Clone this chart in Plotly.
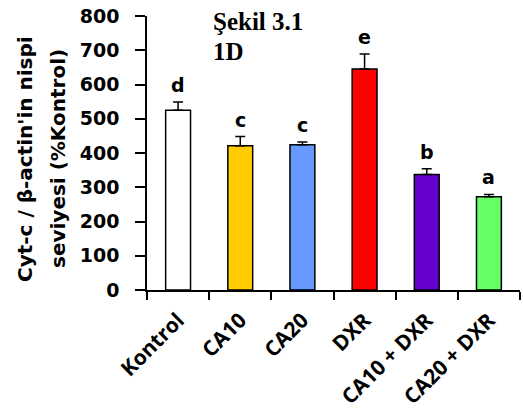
import plotly.graph_objects as go

categories = ["Kontrol", "CA10", "CA20", "DXR", "CA10 + DXR", "CA20 + DXR"]
values = [525, 421, 424, 645, 337, 272]
err_top = [549, 448, 432, 689, 354, 279]
letters = ["d", "c", "c", "e", "b", "a"]
colors = ["#FFFFFF", "#FFCC00", "#6699FF", "#FF0000", "#6600CC", "#66FF66"]
y_ticks = [0, 100, 200, 300, 400, 500, 600, 700, 800]

errs = [t - v for t, v in zip(err_top, values)]

FONT = "DejaVu Sans"
XFONT = "Open Sans"

fig = go.Figure()
fig.add_trace(go.Bar(
    x=categories, y=values, width=0.4,
    marker=dict(color=colors, line=dict(color="black", width=1.5)),
    error_y=dict(type="data", array=errs, arrayminus=[0] * len(errs), symmetric=False,
                 color="black", thickness=1.5, width=5),
))

for c, t, l in zip(categories, err_top, letters):
    fig.add_annotation(x=c, y=t, text=l, showarrow=False, yanchor="bottom",
                       yshift=4, font=dict(family=FONT, size=19, color="black", weight="bold"))

fig.add_annotation(xref="paper", yref="paper", x=(211 - 147) / 373, y=(290 - 22) / 274,
                   text="Şekil 3.1", showarrow=False, xanchor="left", yanchor="middle",
                   font=dict(family="Liberation Serif", size=25, color="black", weight="bold"))
fig.add_annotation(xref="paper", yref="paper", x=(211 - 147) / 373, y=(290 - 52) / 274,
                   text="1D", showarrow=False, xanchor="left", yanchor="middle",
                   font=dict(family="Liberation Serif", size=25, color="black", weight="bold"))

fig.add_annotation(xref="paper", yref="paper", x=(25 - 147) / 373, y=(290 - 159) / 274,
                   text="Cyt-c / β-actin'in nispi", showarrow=False, textangle=-90,
                   xanchor="center", yanchor="middle",
                   font=dict(family=FONT, size=20, color="black", weight="bold"))
fig.add_annotation(xref="paper", yref="paper", x=(58 - 147) / 373, y=(290 - 159) / 274,
                   text="seviyesi (%Kontrol)", showarrow=False, textangle=-90,
                   xanchor="center", yanchor="middle",
                   font=dict(family=FONT, size=20, color="black", weight="bold"))

fig.update_layout(
    width=524, height=417,
    margin=dict(l=147, r=4, t=16, b=127),
    paper_bgcolor="white", plot_bgcolor="white",
    showlegend=False,
    font=dict(family=FONT, color="black"),
    xaxis=dict(type="category", range=[-0.5, 5.5], tickson="boundaries", automargin=False,
               ticks="outside", ticklen=8, tickwidth=1.5, tickcolor="black",
               showline=True, linecolor="black", linewidth=1.5, showgrid=False,
               tickangle=-45, ticklabelstandoff=8,
               tickfont=dict(family=XFONT, size=21, color="black", weight="bold")),
    yaxis=dict(range=[0, 800], tickvals=y_ticks, ticks="outside", ticklen=10, automargin=False,
               tickwidth=1.5, tickcolor="black", showline=True, linecolor="black",
               linewidth=1.5, showgrid=False, zeroline=False,
               tickfont=dict(family=FONT, size=19, color="black", weight="bold"),
               ticklabelstandoff=12),
)

fig.write_html("out.html", config={"displayModeBar": False},
               post_script="document.body.style.margin='0';")
